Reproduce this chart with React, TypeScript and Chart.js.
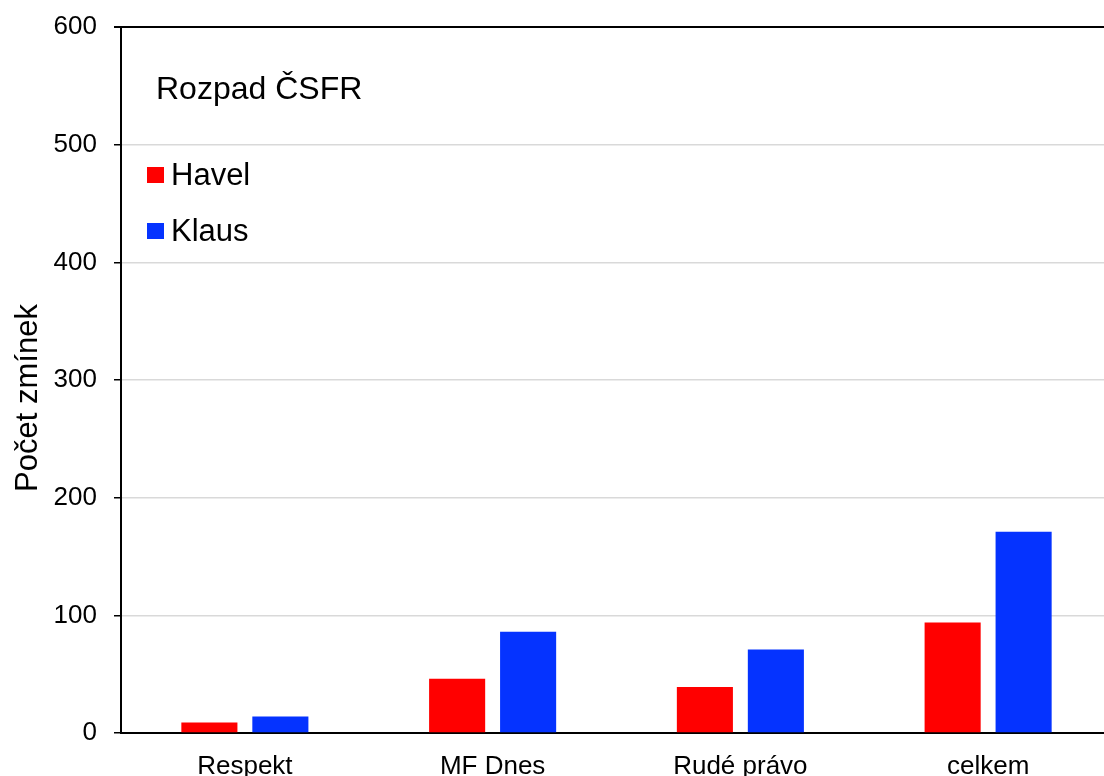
import React, { useEffect, useRef } from "react";
import { Chart, registerables } from "chart.js";

Chart.register(...registerables);

const categories = ["Respekt", "MF Dnes", "Rudé právo", "celkem"];
const havelValues = [9, 46, 39, 94];
const klausValues = [14, 86, 71, 171];
const seriesNames = ["Havel", "Klaus"];
const seriesColors = ["#ff0000", "#0533ff"];
const chartTitle = "Rozpad ČSFR";
const yAxisTitle = "Počet zmínek";
const yMin = 0;
const yMax = 600;
const yStep = 100;

const W = 1104;
const H = 776;
const CANVAS_W = 1112;
const FONT = "'Liberation Sans', Arial, sans-serif";

const overlayPlugin = {
  id: "overlayLegend",
  afterDraw(chart: any) {
    const ctx = chart.ctx;
    ctx.save();
    ctx.fillStyle = "#000";
    ctx.textBaseline = "alphabetic";
    ctx.textAlign = "left";
    ctx.font = `32px ${FONT}`;
    ctx.fillText(chartTitle, 156, 99);
    const rows = [185, 241];
    chart.data.datasets.forEach((ds: any, i: number) => {
      const yb = rows[i];
      ctx.fillStyle = ds.backgroundColor;
      ctx.fillRect(147, yb - 18, 17, 16);
      ctx.fillStyle = "#000";
      ctx.font = `31px ${FONT}`;
      ctx.fillText(ds.label, 171, yb);
    });
    // y-axis title
    ctx.save();
    ctx.translate(37, 398);
    ctx.rotate(-Math.PI / 2);
    ctx.textAlign = "center";
    ctx.textBaseline = "alphabetic";
    ctx.fillStyle = "#000";
    ctx.font = `31px ${FONT}`;
    ctx.fillText(yAxisTitle, 0, 0);
    ctx.restore();
    ctx.restore();
  },
};

export default function App() {
  const ref = useRef<HTMLCanvasElement | null>(null);
  useEffect(() => {
    document.body.style.margin = "0";
    const canvas = ref.current!;
    const chart = new Chart(canvas, {
      type: "bar",
      data: {
        labels: categories,
        datasets: [
          { label: seriesNames[0], data: havelValues, backgroundColor: seriesColors[0] },
          { label: seriesNames[1], data: klausValues, backgroundColor: seriesColors[1] },
        ],
      },
      options: {
        responsive: false,
        animation: false,
        devicePixelRatio: 1,
        layout: { padding: { top: 27, right: 0, left: 0, bottom: 0 } },
        categoryPercentage: 0.573,
        barPercentage: 0.79,
        plugins: {
          legend: { display: false },
          tooltip: { enabled: false },
        },
        scales: {
          x: {
            grid: { display: false },
            border: { display: true, color: "#000", width: 2 },
            ticks: { color: "#000", font: { size: 26, family: FONT }, padding: 10, maxRotation: 0 },
            afterFit: (s: any) => {
              s.height = H - 733;
              s.paddingLeft = 0;
              s.paddingRight = 0;
            },
          },
          y: {
            min: yMin,
            max: yMax,
            ticks: { stepSize: yStep, color: "#000", font: { size: 26, family: FONT }, padding: 17 },
            grid: {
              color: (c: any) => (c.tick && c.tick.value === yMax ? "#000" : "#d9d9d9"),
              lineWidth: (c: any) => (c.tick && c.tick.value === yMax ? 2 : 1.5),
              tickColor: "#000",
              tickLength: 7,
            },
            border: { display: true, color: "#000", width: 2 },
            title: { display: false },
            afterFit: (s: any) => {
              s.width = 121;
              s.paddingTop = 0;
              s.paddingBottom = 0;
            },
          },
        },
      },
      plugins: [overlayPlugin],
    });
    return () => chart.destroy();
  }, []);
  return (
    <div style={{ width: W, height: H, overflow: "hidden", background: "#fff" }}>
      <canvas ref={ref} width={CANVAS_W} height={H} style={{ display: "block" }} />
    </div>
  );
}
